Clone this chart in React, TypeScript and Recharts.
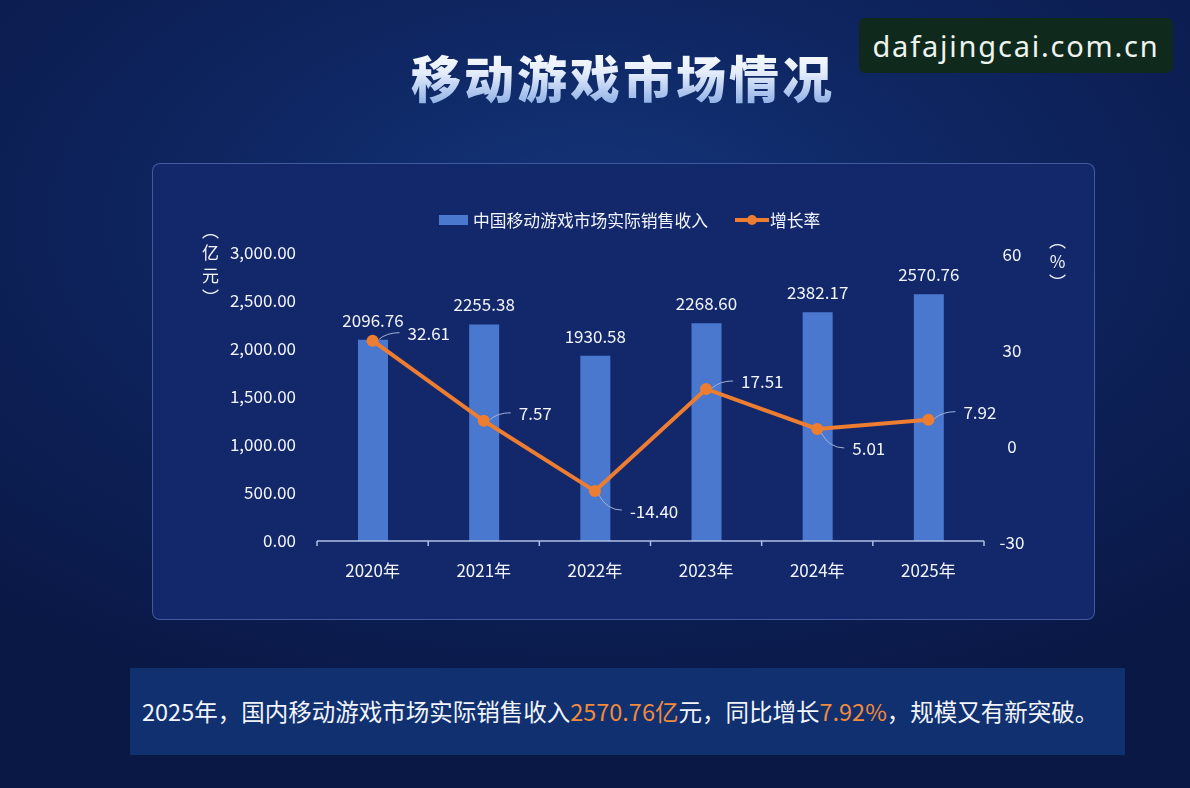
import React from 'react';
import { ComposedChart, Bar, Line, XAxis, YAxis, LabelList } from 'recharts';

const years = ['2020年', '2021年', '2022年', '2023年', '2024年', '2025年'];
const revenue = [2096.76, 2255.38, 1930.58, 2268.6, 2382.17, 2570.76];
const growth = [32.61, 7.57, -14.4, 17.51, 5.01, 7.92];
const revenueTicks = [0, 500, 1000, 1500, 2000, 2500, 3000];
const growthTicks = [-30, 0, 30, 60];

const data = years.map((year, i) => ({ year, revenue: revenue[i], growth: growth[i] }));

const FONT = '"Noto Sans CJK SC", "Noto Sans", sans-serif';
const AXIS = '#aebfe6';
const BLUE = '#4a78cf';
const ORANGE = '#ed7d31';
const TEXT = '#f2f5fc';

const fmtMoney = (v: number) =>
    v.toLocaleString('en-US', { minimumFractionDigits: 2, maximumFractionDigits: 2 });

// label at band centre, tick marks on the band edges
const YearTick = (props: any) => {
    const { x, y, payload } = props;
    const half = payload.offset || 667 / 12;
    const last = payload.index === years.length - 1;
    return (
        <g>
            <line x1={x - half} y1={y} x2={x - half} y2={y + 5} stroke={AXIS} strokeWidth={1.5} />
            {last && <line x1={x + half} y1={y} x2={x + half} y2={y + 5} stroke={AXIS} strokeWidth={1.5} />}
            <text x={x} y={y + 28} textAnchor="middle" dominantBaseline="central"
                fill={TEXT} fontSize={17} fontFamily={FONT}>
                {payload.value}
            </text>
        </g>
    );
};

const RightTick = (props: any) => {
    const { x, y, payload } = props;
    return (
        <text x={x + 20} y={y} textAnchor="middle" dominantBaseline="central"
            fill={TEXT} fontSize={17} fontFamily={FONT}>
            {payload.value}
        </text>
    );
};

const GrowthLabel = (props: any) => {
    const { x, y, value, index } = props;
    const prev = growth[index - 1];
    const next = growth[index + 1];
    const below = (prev === undefined || value < prev) && (next === undefined || value < next);
    const ty = below ? y + 19 : y - 8;
    const d = below
        ? `M${x + 4},${y + 4} Q${x + 12},${ty} ${x + 27},${ty}`
        : `M${x + 6},${y - 1} Q${x + 14},${ty} ${x + 27},${ty}`;
    return (
        <g>
            <path d={d} stroke="#9fb0d8" strokeWidth={1} fill="none" />
            <text x={x + 35} y={ty} dominantBaseline="central" fill={TEXT}
                fontSize={17} fontFamily={FONT}>
                {Number(value).toFixed(2)}
            </text>
        </g>
    );
};

const unitStyle = (left: number, top: number, spacing: number): React.CSSProperties => ({
    position: 'absolute', left, top, writingMode: 'vertical-rl', textOrientation: 'upright',
    fontSize: 17, letterSpacing: spacing, color: TEXT, fontFamily: FONT, lineHeight: '20px',
});

const App: React.FC = () => (
    <div style={{
        position: 'fixed', left: 0, top: 0, width: 1190, height: 788, overflow: 'hidden',
        background: 'radial-gradient(ellipse 75% 65% at 50% 28%, #14357a 0%, #0e2560 45%, #0a1846 100%)',
        fontFamily: FONT,
    }}>
        <div style={{
            position: 'absolute', left: 411, top: 48, fontSize: 50, fontWeight: 900, lineHeight: '56px',
            letterSpacing: 3, whiteSpace: 'nowrap',
            background: 'linear-gradient(180deg, #ffffff 0%, #e3ecfb 45%, #8fb0e6 100%)',
            WebkitBackgroundClip: 'text', backgroundClip: 'text', color: 'transparent',
        }}>移动游戏市场情况</div>

        <div style={{
            position: 'absolute', left: 859, top: 18, width: 314, height: 55, borderRadius: 6,
            background: '#0f2a1c', color: '#eef3ee', fontFamily: '"Noto Sans", sans-serif',
            fontSize: 29, letterSpacing: 1.8, lineHeight: '55px', textAlign: 'center',
        }}>dafajingcai.com.cn</div>

        <div style={{
            position: 'absolute', left: 152, top: 163, width: 941, height: 455, borderRadius: 8,
            background: '#13286b', border: '1px solid rgba(120,150,220,0.45)',
        }} />

        <div style={{ position: 'absolute', left: 439, top: 208, display: 'flex', alignItems: 'center', height: 24, color: TEXT, fontSize: 16.8, whiteSpace: 'nowrap' }}>
            <span style={{ display: 'inline-block', width: 29, height: 10, background: BLUE, marginRight: 5 }} />
            <span>中国移动游戏市场实际销售收入</span>
            <svg width={34} height={14} style={{ marginLeft: 27, marginRight: 1 }}>
                <line x1={0} y1={7} x2={34} y2={7} stroke={ORANGE} strokeWidth={4} />
                <circle cx={17} cy={7} r={5} fill={ORANGE} />
            </svg>
            <span>增长率</span>
        </div>

        <div style={unitStyle(200, 222, 5.5)}>（亿元）</div>
        <div style={unitStyle(1047, 232, 4)}>（%）</div>

        <div style={{ position: 'absolute', left: 152, top: 163 }}>
            <ComposedChart width={943} height={457} data={data}
                margin={{ top: 90, right: 51, bottom: 39, left: 85 }}>
                <XAxis dataKey="year" height={40} interval={0}
                    axisLine={{ stroke: AXIS, strokeWidth: 1.5 }} tickLine={false}
                    tickSize={0} tickMargin={0} tick={<YearTick />} />
                <YAxis yAxisId="left" width={80} domain={[0, 3000]} ticks={revenueTicks}
                    axisLine={false} tickLine={false} tickSize={6} tickMargin={15}
                    tickFormatter={fmtMoney} tick={{ fill: TEXT, fontSize: 17, fontFamily: FONT }} />
                <YAxis yAxisId="right" orientation="right" width={60} domain={[-30, 60]} ticks={growthTicks}
                    axisLine={false} tickLine={false} tickSize={6} tickMargin={2} tick={<RightTick />} />
                <Bar yAxisId="left" dataKey="revenue" fill={BLUE} barSize={30} isAnimationActive={false}>
                    <LabelList dataKey="revenue" position="top" offset={13} fill={TEXT}
                        fontSize={17} fontFamily={FONT} formatter={(v: any) => Number(v).toFixed(2)} />
                </Bar>
                <Line yAxisId="right" dataKey="growth" stroke={ORANGE} strokeWidth={4}
                    dot={{ r: 6, fill: ORANGE, stroke: ORANGE, strokeWidth: 0 }} isAnimationActive={false}>
                    <LabelList dataKey="growth" content={<GrowthLabel />} />
                </Line>
            </ComposedChart>
        </div>

        <div style={{
            position: 'absolute', left: 130, top: 668, width: 995, height: 87,
            background: '#10306f', color: TEXT, fontSize: 23.5, lineHeight: '87px',
            paddingLeft: 12, boxSizing: 'border-box', whiteSpace: 'nowrap',
        }}>
            2025年，国内移动游戏市场实际销售收入<span style={{ color: '#f08a3c' }}>2570.76亿</span>元，同比增长<span style={{ color: '#f08a3c' }}>7.92%</span>，规模又有新突破。
        </div>
    </div>
);

export default App;
